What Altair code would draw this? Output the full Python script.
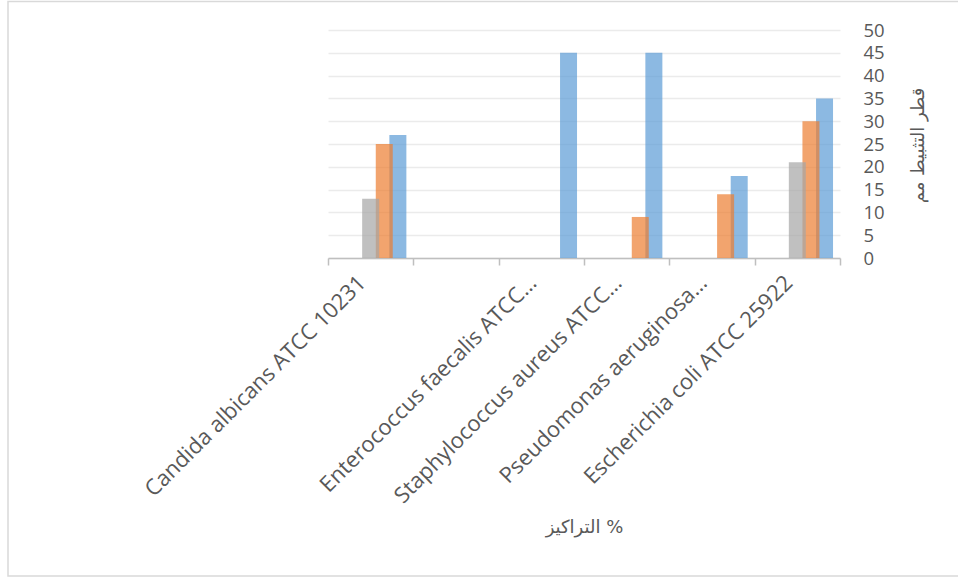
import altair as alt
import pandas as pd

categories = [
    "Candida albicans ATCC 10231",
    " ",
    "Enterococcus faecalis ATCC…",
    "Staphylococcus aureus ATCC…",
    "Pseudomonas aeruginosa…",
    "Escherichia coli ATCC 25922",
]
offset_order = ["Series5", "Series4", "Series3", "Series2", "Series1"]
series_names = ["Series1", "Series2", "Series3"]
series_colors = ["#5B9BD5", "#ED7D31", "#A5A5A5"]

series1 = [27, None, 45, 45, 18, 35]        # blue
series2 = [25, None, None, 9, 14, 30]       # orange
series3 = [13, None, None, None, None, 21]  # grey

rows = []
for name, vals in zip(series_names, [series1, series2, series3]):
    for cat, v in zip(categories, vals):
        if v is not None:
            rows.append({"category": cat, "series": name, "value": v})
df = pd.DataFrame(rows)

W, H = 512, 228
PL, PT = 328, 30

bars = alt.Chart(df).mark_bar(width=17, opacity=0.7).encode(
    x=alt.X(
        "category:N",
        sort=categories,
        scale=alt.Scale(domain=categories, paddingInner=0, paddingOuter=0),
        axis=alt.Axis(
            title="التراكيز %",
            titleX=W / 2,
            titleY=269,
            titleAlign="center",
            titleBaseline="middle",
            titleFontSize=18,
            titleFontWeight="normal",
            titleColor="#595959",
            titleFont="DejaVu Sans",
            labelAngle=-45,
            labelAlign="right",
            labelBaseline="middle",
            labelPadding=14,
            labelOffset=-9,
            labelFontSize=22,
            labelColor="#595959",
            labelFont="Open Sans",
            labelLimit=600,
            labelOverlap=False,
            labelFlush=False,
            tickBand="extent",
            tickSize=7,
            tickColor="#BFBFBF",
            tickWidth=1.5,
            domainColor="#BFBFBF",
            domainWidth=1.5,
            grid=False,
        ),
    ),
    xOffset=alt.XOffset("series:N", sort=offset_order,
                        scale=alt.Scale(domain=offset_order, paddingInner=0, paddingOuter=0.637)),
    y=alt.Y(
        "value:Q",
        scale=alt.Scale(domain=[0, 50]),
        axis=alt.Axis(
            orient="right",
            values=list(range(0, 51, 5)),
            title="قطر التثبيط مم",
            titleAngle=270,
            titleX=78,
            titleY=115,
            titleAlign="center",
            titleBaseline="middle",
            titleFontSize=18,
            titleFontWeight="normal",
            titleColor="#595959",
            titleFont="DejaVu Sans",
            labelFontSize=18.5,
            labelColor="#595959",
            labelFont="Open Sans",
            labelPadding=23,
            labelAlign="left",
            labelBaseline="middle",
            domain=False,
            ticks=False,
            grid=True,
            gridColor="#EBEBEB",
            gridWidth=1.5,
        ),
    ),
    color=alt.Color("series:N", scale=alt.Scale(domain=series_names, range=series_colors), legend=None),
)

border = alt.Chart(pd.DataFrame({"a": [0]})).mark_rect(
    fill=None, stroke="#D9D9D9", strokeWidth=1.5
).encode(
    x=alt.value(8 - PL), x2=alt.value(970 - PL),
    y=alt.value(1.5 - PT), y2=alt.value(576 - PT),
)

chart = alt.layer(border, bars).properties(
    width=W, height=H,
    autosize=alt.AutoSizeParams(type="none"),
    padding={"left": PL, "top": PT, "right": 958 - PL - W, "bottom": 579 - PT - H},
    background="white",
).configure_view(stroke=None)

chart.save("out.html", embed_options={"renderer": "svg", "actions": False})
